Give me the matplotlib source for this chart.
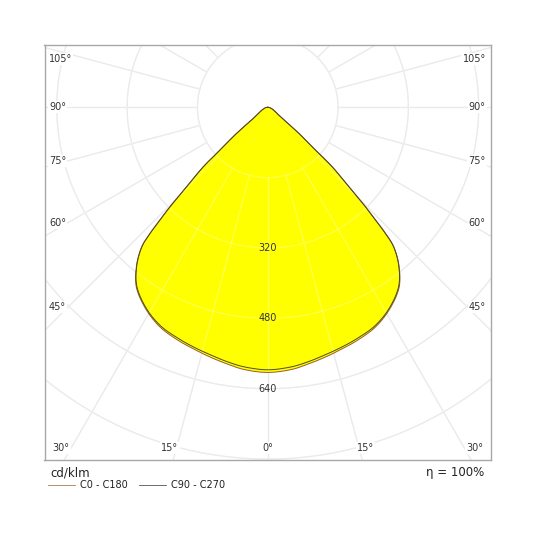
import numpy as np
import matplotlib
matplotlib.use("Agg")
import matplotlib.pyplot as plt

# luminous intensity (cd/klm), gamma angle from nadir
gamma = [0, 5, 9, 13, 17, 21, 26, 31, 36, 39.5, 42, 43, 43.7, 44.5, 45.6,
         47.3, 48.1, 50, 52.4, 55, 60, 65, 70, 75, 80, 85, 90]
c0_c180 = [603, 599, 591, 583, 575, 568, 557, 537, 508, 470, 430, 395, 356,
           318, 259, 200, 147, 95, 42, 30, 20, 14, 10, 7, 5, 3, 1.5]
c90_c270 = [597, 593, 586, 578, 571, 564, 554, 535, 506, 469, 429, 394, 356,
            318, 259, 200, 147, 95, 42, 30, 20, 14, 10, 7, 5, 3, 1.5]

ring_values = [160, 320, 480, 640, 800, 960]
ring_labels = [320, 480, 640]
side_angles = [105, 90, 75, 60, 45]
bottom_angles = [30, 15, 0, 15, 30]
bottom_sides = [-1, -1, 0, 1, 1]

XMIN, XMAX = -508, 508
YMIN, YMAX = -801, 141

fig = plt.figure(figsize=(5.36, 5.35), dpi=100)
ax = fig.add_axes([44.5 / 536, (535 - 459.5) / 535, 446.5 / 536, 414.2 / 535])
ax.set_xlim(XMIN, XMAX)
ax.set_ylim(YMIN, YMAX)
ax.set_xticks([])
ax.set_yticks([])
for sp in ax.spines.values():
    sp.set_color("#a8a8a8")
    sp.set_linewidth(1.0)


def smooth(px, py, n=10):
    # catmull-rom through the read points, just for a smooth drawn line
    P = np.column_stack([px, py])
    P = np.vstack([P[0], P, P[-1]])
    out = []
    s = np.linspace(0, 1, n, endpoint=False)[:, None]
    for i in range(1, len(P) - 2):
        p0, p1, p2, p3 = P[i - 1], P[i], P[i + 1], P[i + 2]
        out.append(0.5 * (2 * p1 + (-p0 + p2) * s
                          + (2 * p0 - 5 * p1 + 4 * p2 - p3) * s ** 2
                          + (-p0 + 3 * p1 - 3 * p2 + p3) * s ** 3))
    out.append(P[-2][None, :])
    out = np.vstack(out)
    return out[:, 0], out[:, 1]


def outline(values):
    g = np.radians(gamma)
    r = np.array(values, dtype=float)
    xr, yr = r * np.sin(g), -r * np.cos(g)
    x = np.concatenate([[0], -xr[::-1], xr[1:], [0]])
    y = np.concatenate([[0], yr[::-1], yr[1:], [0]])
    return smooth(x, y)


def draw_grid(**kw):
    t = np.linspace(0, 2 * np.pi, 400)
    for rv in ring_values:
        ax.plot(rv * np.cos(t), rv * np.sin(t), **kw)
    for a in range(0, 360, 15):
        ar = np.radians(a)
        ax.plot([160 * np.sin(ar), 1100 * np.sin(ar)],
                [-160 * np.cos(ar), -1100 * np.cos(ar)], **kw)


# grid under the fill
draw_grid(color="#e2e2e2", lw=0.9, zorder=0)

# fill
for vals in (c0_c180, c90_c270):
    x, y = outline(vals)
    ax.fill(x, y, color="#ffff00", lw=0, zorder=1)

# faint grid showing through the fill
draw_grid(color="white", lw=0.9, alpha=0.3, zorder=2)

# curves
for vals, col in ((c0_c180, "#9a5a2a"), (c90_c270, "#4a4a2a")):
    x, y = outline(vals)
    ax.plot(x, y, color=col, lw=0.7, zorder=3)

# ring value labels
for v in ring_labels:
    ax.text(0, -v, str(v), ha="center", va="center", fontsize=7,
            color="#333333", zorder=5)

lab_kw = dict(fontsize=7, color="#333333", zorder=6,
              bbox=dict(facecolor="white", edgecolor="none", pad=0.8))

# angle labels on the sides
for a in side_angles:
    ar = np.radians(a)
    yy = -455 * np.cos(ar) / np.sin(ar)
    yy = min(yy, YMAX - 32)
    ax.text(XMIN + 10, yy, f"{a}°", ha="left", va="center", **lab_kw)
    ax.text(XMAX - 12, yy, f"{a}°", ha="right", va="center", **lab_kw)

# angle labels at the bottom
for a, s in zip(bottom_angles, bottom_sides):
    ar = np.radians(a)
    xx = s * (-YMIN * np.tan(ar) + (8 if a else 0))
    xx = float(np.clip(xx, XMIN + 35, XMAX - 35))
    ax.text(xx, -775, f"{a}°", ha="center", va="center", **lab_kw)

# footer: unit, efficiency and legend
fig.text(50 / 536, 1 - 472.5 / 535, "cd/klm", fontsize=8.5, color="#222222",
         ha="left", va="center")
fig.text(484 / 536, 1 - 472.5 / 535, "η = 100%", fontsize=8.5,
         color="#222222", ha="right", va="center")

legend_items = [("C0 - C180", "#b07850", 48), ("C90 - C270", "#555555", 139)]
ly = 1 - 484.7 / 535
for name, col, x0 in legend_items:
    fig.add_artist(plt.Line2D([x0 / 536, (x0 + 27) / 536], [ly, ly],
                              color=col, lw=0.6, transform=fig.transFigure))
    fig.text((x0 + 32) / 536, ly, name, fontsize=7, color="#222222",
             ha="left", va="center")

fig.savefig("out.png", dpi=100, facecolor="white")
